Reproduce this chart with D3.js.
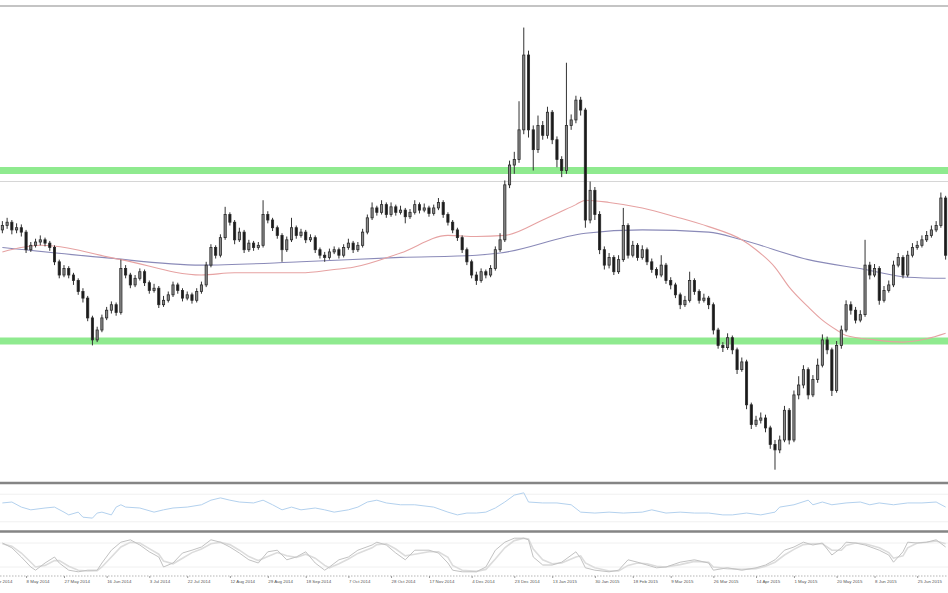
<!DOCTYPE html>
<html><head><meta charset="utf-8">
<script src="https://d3js.org/d3.v7.min.js"></script>
<style>html,body{margin:0;padding:0;background:#fff;overflow:hidden}</style>
</head><body><svg id="c" width="948" height="593"></svg>
<script>
// EUR/PLN candles
const open = [
4.201,4.205,4.208,4.201,4.203,4.199,4.183,4.187,4.190,4.192,
4.189,4.185,4.172,4.160,4.166,4.160,4.155,4.145,4.139,4.121,
4.101,4.110,4.121,4.128,4.133,4.126,4.166,4.160,4.151,4.157,
4.163,4.153,4.146,4.148,4.133,4.137,4.142,4.151,4.146,4.139,
4.142,4.137,4.145,4.151,4.169,4.185,4.178,4.194,4.215,4.208,
4.192,4.199,4.183,4.189,4.185,4.187,4.215,4.210,4.203,4.196,
4.183,4.192,4.203,4.196,4.199,4.192,4.194,4.183,4.178,4.176,
4.181,4.183,4.178,4.185,4.189,4.183,4.187,4.199,4.212,4.221,
4.217,4.224,4.215,4.222,4.217,4.219,4.213,4.217,4.224,4.219,
4.221,4.216,4.221,4.226,4.215,4.208,4.201,4.194,4.183,4.172,
4.160,4.155,4.163,4.160,4.166,4.183,4.192,4.242,4.260,4.265,
4.292,4.360,4.292,4.274,4.296,4.287,4.308,4.283,4.265,4.255,
4.296,4.301,4.319,4.310,4.210,4.237,4.215,4.183,4.169,4.176,
4.163,4.174,4.205,4.178,4.187,4.176,4.183,4.172,4.165,4.160,
4.169,4.155,4.151,4.142,4.133,4.137,4.155,4.145,4.137,4.139,
4.133,4.110,4.096,4.094,4.103,4.092,4.074,4.081,4.042,4.024,
4.028,4.030,4.021,4.006,4.001,4.010,4.037,4.010,4.051,4.060,
4.074,4.051,4.065,4.078,4.101,4.092,4.055,4.096,4.110,4.133,
4.128,4.119,4.124,4.169,4.160,4.166,4.137,4.146,4.151,4.169,
4.176,4.160,4.178,4.185,4.187,4.192,4.196,4.201,4.205,4.230];
const close = [
4.205,4.208,4.201,4.203,4.199,4.183,4.187,4.190,4.192,4.189,
4.185,4.172,4.160,4.166,4.160,4.155,4.145,4.139,4.121,4.101,
4.110,4.121,4.128,4.133,4.126,4.166,4.160,4.151,4.157,4.163,
4.153,4.146,4.148,4.133,4.137,4.142,4.151,4.146,4.139,4.142,
4.137,4.145,4.151,4.169,4.185,4.178,4.194,4.215,4.208,4.192,
4.199,4.183,4.189,4.185,4.187,4.215,4.210,4.203,4.196,4.183,
4.192,4.203,4.196,4.199,4.192,4.194,4.183,4.178,4.176,4.181,
4.183,4.178,4.185,4.189,4.183,4.187,4.199,4.212,4.221,4.217,
4.224,4.215,4.222,4.217,4.219,4.213,4.217,4.224,4.219,4.221,
4.216,4.221,4.226,4.215,4.208,4.201,4.194,4.183,4.172,4.160,
4.155,4.163,4.160,4.166,4.183,4.192,4.242,4.260,4.265,4.292,
4.360,4.292,4.274,4.296,4.287,4.308,4.283,4.265,4.255,4.296,
4.301,4.319,4.310,4.210,4.237,4.215,4.183,4.169,4.176,4.163,
4.174,4.205,4.178,4.187,4.176,4.183,4.172,4.165,4.160,4.169,
4.155,4.151,4.142,4.133,4.137,4.155,4.145,4.137,4.139,4.133,
4.110,4.096,4.094,4.103,4.092,4.074,4.081,4.042,4.024,4.028,
4.030,4.021,4.006,4.001,4.010,4.037,4.010,4.051,4.060,4.074,
4.051,4.065,4.078,4.101,4.092,4.055,4.096,4.110,4.133,4.128,
4.119,4.124,4.169,4.160,4.166,4.137,4.146,4.151,4.169,4.176,
4.160,4.178,4.185,4.187,4.192,4.196,4.201,4.205,4.230,4.178];
const high = [
4.209,4.212,4.210,4.207,4.206,4.201,4.190,4.193,4.196,4.194,
4.191,4.187,4.174,4.169,4.168,4.162,4.157,4.148,4.141,4.123,
4.113,4.124,4.131,4.136,4.135,4.174,4.169,4.162,4.160,4.166,
4.165,4.155,4.152,4.150,4.141,4.145,4.154,4.153,4.148,4.145,
4.144,4.148,4.154,4.172,4.188,4.187,4.197,4.222,4.217,4.210,
4.203,4.201,4.192,4.191,4.190,4.228,4.218,4.212,4.205,4.198,
4.195,4.212,4.205,4.202,4.201,4.197,4.196,4.185,4.181,4.184,
4.186,4.185,4.188,4.193,4.191,4.190,4.202,4.215,4.226,4.223,
4.228,4.226,4.226,4.224,4.223,4.221,4.220,4.228,4.226,4.225,
4.223,4.224,4.230,4.228,4.217,4.210,4.203,4.196,4.185,4.174,
4.163,4.166,4.165,4.169,4.186,4.198,4.246,4.264,4.272,4.318,
4.385,4.364,4.296,4.305,4.300,4.313,4.310,4.286,4.268,4.353,
4.306,4.323,4.322,4.312,4.245,4.240,4.218,4.186,4.180,4.178,
4.178,4.221,4.207,4.191,4.189,4.187,4.185,4.175,4.167,4.178,
4.171,4.158,4.153,4.144,4.141,4.163,4.157,4.147,4.143,4.141,
4.135,4.112,4.099,4.107,4.105,4.094,4.085,4.083,4.044,4.032,
4.035,4.033,4.023,4.010,4.014,4.041,4.039,4.055,4.068,4.078,
4.076,4.069,4.084,4.106,4.104,4.094,4.100,4.114,4.137,4.136,
4.131,4.128,4.192,4.172,4.170,4.168,4.150,4.155,4.173,4.180,
4.178,4.182,4.189,4.191,4.196,4.200,4.205,4.209,4.235,4.232];
const low = [
4.198,4.202,4.197,4.198,4.195,4.180,4.181,4.185,4.187,4.186,
4.182,4.169,4.157,4.158,4.157,4.151,4.142,4.135,4.118,4.096,
4.099,4.108,4.119,4.125,4.123,4.124,4.157,4.148,4.149,4.155,
4.150,4.143,4.144,4.130,4.131,4.135,4.140,4.143,4.136,4.137,
4.134,4.135,4.143,4.149,4.167,4.175,4.176,4.192,4.205,4.188,
4.190,4.180,4.181,4.182,4.183,4.185,4.207,4.200,4.193,4.172,
4.181,4.190,4.193,4.194,4.189,4.190,4.180,4.175,4.172,4.174,
4.179,4.175,4.176,4.183,4.180,4.181,4.185,4.197,4.210,4.214,
4.215,4.212,4.213,4.214,4.215,4.207,4.211,4.215,4.216,4.217,
4.213,4.214,4.219,4.212,4.205,4.198,4.191,4.180,4.169,4.157,
4.151,4.153,4.157,4.158,4.164,4.181,4.190,4.239,4.252,4.262,
4.288,4.285,4.255,4.271,4.283,4.284,4.279,4.258,4.249,4.252,
4.292,4.298,4.305,4.203,4.207,4.210,4.179,4.165,4.166,4.160,
4.161,4.172,4.175,4.176,4.173,4.174,4.169,4.162,4.157,4.158,
4.152,4.147,4.139,4.129,4.131,4.135,4.142,4.134,4.135,4.129,
4.106,4.093,4.090,4.092,4.088,4.070,4.072,4.038,4.020,4.022,
4.025,4.017,4.002,3.983,3.998,4.008,4.006,4.008,4.047,4.057,
4.047,4.049,4.062,4.076,4.088,4.050,4.053,4.093,4.108,4.124,
4.116,4.117,4.122,4.156,4.158,4.133,4.135,4.144,4.149,4.167,
4.157,4.158,4.176,4.183,4.185,4.190,4.194,4.199,4.203,4.174];

const levels = [4.255, 4.100];       // green horizontal lines
const priceLine = [4.245];           // thin grey line

const maFastIdx = [0,8,25,42,49,63,70,74,84,94,100,106,114,121,123,128,135,142,149,156,159,163,166,170,173,176,178,184,190,195,199];
const maFastVal = [4.181,4.187,4.174,4.160,4.162,4.162,4.165,4.167,4.180,4.196,4.195,4.196,4.210,4.224,4.228,4.226,4.221,4.213,4.204,4.192,4.183,4.167,4.149,4.131,4.119,4.110,4.105,4.101,4.099,4.102,4.107];
const maSlowIdx = [0,21,42,63,84,100,105,123,135,149,156,170,182,191,199];
const maSlowVal = [4.185,4.176,4.169,4.172,4.176,4.178,4.180,4.198,4.201,4.199,4.192,4.174,4.165,4.158,4.157];

const rsiIdx = [0,2,4,6,9,11,13,14,16,17,19,20,21,23,24,25,26,29,32,34,36,39,42,44,46,48,50,53,55,57,59,61,63,66,68,70,73,75,77,79,81,84,87,91,94,96,98,100,102,104,106,108,110,111,114,117,120,122,125,128,131,135,137,140,143,146,149,152,154,157,160,163,164,167,170,171,173,175,178,181,183,185,188,191,194,197,199];
const rsiVal = [61,63,52,46,50,52,41,35,41,30,28,39,41,35,52,57,52,50,41,46,50,52,57,67,72,67,63,61,67,57,46,52,46,50,46,41,46,52,63,67,61,57,57,52,41,35,39,39,41,50,63,78,83,63,61,61,57,41,39,41,39,41,46,39,41,39,39,35,35,39,35,41,52,57,67,57,63,57,61,63,57,61,57,61,61,63,52];

const stochIdx = [0,2,4,6,7,9,11,12,14,16,18,20,21,23,25,27,29,31,33,34,36,38,40,42,44,46,48,50,52,54,56,58,60,62,64,66,68,69,71,73,75,78,79,81,83,85,87,90,92,94,95,97,100,102,104,106,108,110,111,112,114,116,118,121,122,123,125,128,130,132,134,136,138,140,143,146,149,150,153,156,159,161,163,165,167,169,171,173,175,177,178,180,182,185,187,188,190,191,193,195,197,199];
const stochK = [80,68,45,20,12,30,45,30,12,8,12,12,30,62,82,88,75,58,45,20,30,55,62,70,88,82,70,55,38,30,58,62,38,45,58,30,12,20,38,45,62,75,82,75,55,38,62,62,55,30,12,8,8,20,62,82,92,92,88,45,25,25,32,58,42,18,12,8,12,38,32,25,18,20,32,38,30,12,18,12,18,25,38,62,70,82,75,80,50,68,82,80,75,62,50,32,58,82,80,82,88,70];
const stochD = [78,72,55,32,20,24,36,36,22,12,10,11,20,45,70,82,80,66,52,35,28,42,56,65,78,82,76,62,46,36,46,56,48,44,52,42,24,18,28,40,54,68,76,78,65,48,52,58,58,44,24,12,9,14,40,68,86,92,90,65,38,28,30,45,48,30,18,10,10,24,30,28,22,20,26,34,32,20,16,14,16,22,32,50,64,76,78,78,62,62,74,80,78,68,56,42,48,68,80,82,85,78];

const tickIdx = [-3,5,13,22,31,39,48,56,64,73,82,90,99,108,116,125,133,141,150,159,167,176,184,193];
const tickLabels = ["17 Apr 2014","8 May 2014","27 May 2014","16 Jun 2014","3 Jul 2014","22 Jul 2014","12 Aug 2014","29 Aug 2014","18 Sep 2014","7 Oct 2014","28 Oct 2014","17 Nov 2014","4 Dec 2014","23 Dec 2014","13 Jan 2015","30 Jan 2015","18 Feb 2015","9 Mar 2015","26 Mar 2015","14 Apr 2015","1 May 2015","20 May 2015","8 Jun 2015","25 Jun 2015"];

const W = 948, H = 593;
const svg = d3.select('#c');
const x = d3.scaleLinear().domain([0, 199]).range([2.37, 945.63]);
const y = d3.scaleLinear().domain([3.9709, 4.4055]).range([483, 5]);
const yR = d3.scaleLinear().domain([0, 100]).range([531, 485]);
const yS = d3.scaleLinear().domain([0, 100]).range([575, 535]);

// top frame line
svg.append('line').attr('x1',0).attr('x2',W).attr('y1',6).attr('y2',6).attr('stroke','#c4c4c4').attr('stroke-width',2);

// levels
svg.selectAll('.lvl').data(levels).enter().append('line')
  .attr('x1',0).attr('x2',W).attr('y1',d=>y(d)).attr('y2',d=>y(d))
  .attr('stroke','#8fea8f').attr('stroke-width',7);
svg.selectAll('.pl').data(priceLine).enter().append('line')
  .attr('x1',0).attr('x2',W).attr('y1',d=>y(d)).attr('y2',d=>y(d))
  .attr('stroke','#d6d6d6').attr('stroke-width',1);

// moving averages (under the candles, like the reference)
const line = d3.line().x(d=>x(d[0])).y(d=>y(d[1])).curve(d3.curveMonotoneX);
svg.append('path').datum(maSlowIdx.map((d,i)=>[d,maSlowVal[i]]))
  .attr('d',line).attr('fill','none').attr('stroke','#8a8ab8').attr('stroke-width',1.1);
svg.append('path').datum(maFastIdx.map((d,i)=>[d,maFastVal[i]]))
  .attr('d',line).attr('fill','none').attr('stroke','#e6a2a2').attr('stroke-width',1.1);

// candles
const idx = d3.range(close.length);
const bw = 2.2;
const g = svg.append('g');
g.selectAll('.wick').data(idx).enter().append('line')
  .attr('x1',i=>x(i)).attr('x2',i=>x(i))
  .attr('y1',i=>y(high[i])).attr('y2',i=>y(low[i]))
  .attr('stroke','#333').attr('stroke-width',1);
g.selectAll('.body').data(idx).enter().append('rect')
  .attr('x',i=>x(i)-bw/2).attr('width',bw)
  .attr('y',i=>y(Math.max(open[i],close[i])))
  .attr('height',i=>Math.max(1, Math.abs(y(open[i])-y(close[i]))))
  .attr('fill',i=>close[i]>=open[i]?'#8a8a8a':'#1a1a1a')
  .attr('stroke','#2a2a2a').attr('stroke-width',0.8);

// panel separators
svg.append('line').attr('x1',0).attr('x2',W).attr('y1',483).attr('y2',483).attr('stroke','#858585').attr('stroke-width',2.6);
svg.append('line').attr('x1',0).attr('x2',W).attr('y1',531.5).attr('y2',531.5).attr('stroke','#858585').attr('stroke-width',2.6);

// RSI panel
[80,20].forEach(v=>svg.append('line').attr('x1',0).attr('x2',W).attr('y1',yR(v)).attr('y2',yR(v)).attr('stroke','#f0f0f0').attr('stroke-width',1));
const lr = d3.line().x(d=>x(d[0])).y(d=>yR(d[1]));
svg.append('path').datum(rsiIdx.map((d,i)=>[d,rsiVal[i]]))
  .attr('d',lr).attr('fill','none').attr('stroke','#b3d1ee').attr('stroke-width',1);

// Stochastic panel
[80,20].forEach(v=>svg.append('line').attr('x1',0).attr('x2',W).attr('y1',yS(v)).attr('y2',yS(v)).attr('stroke','#f0f0f0').attr('stroke-width',1));
const ls = d3.line().x(d=>x(d[0])).y(d=>yS(d[1]));
svg.append('path').datum(stochIdx.map((d,i)=>[d,stochD[i]]))
  .attr('d',ls).attr('fill','none').attr('stroke','#dcdcdc').attr('stroke-width',1.6);
svg.append('path').datum(stochIdx.map((d,i)=>[d,stochK[i]]))
  .attr('d',ls).attr('fill','none').attr('stroke','#c2c2c2').attr('stroke-width',1);

// time axis
svg.append('line').attr('x1',0).attr('x2',W).attr('y1',576).attr('y2',576).attr('stroke','#b5b5b5').attr('stroke-width',1).attr('stroke-dasharray','1.5,1.5');
const ax = svg.append('g').attr('transform','translate(0,576)')
  .call(d3.axisBottom(x).tickValues(tickIdx).tickFormat((d,i)=>tickLabels[i]).tickSize(2).tickPadding(2));
ax.select('.domain').remove();
ax.selectAll('.tick line').attr('stroke','#999');
ax.selectAll('.tick text').attr('text-anchor','start').attr('fill','#555')
  .style('font-family','"Liberation Sans", Arial, sans-serif').style('font-size','4.4px');
</script></body></html>
